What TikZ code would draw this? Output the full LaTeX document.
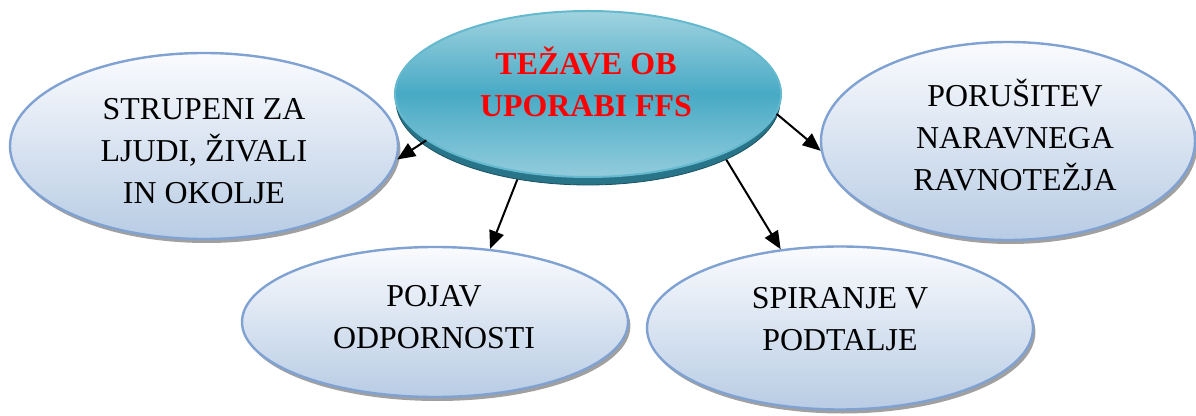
\documentclass[tikz,border=0pt]{standalone}
\usepackage{fontspec}
\setmainfont{Liberation Serif}
\usetikzlibrary{shapes.geometric,arrows.meta,shadows}
\definecolor{ellborder}{RGB}{128,162,210}
\definecolor{elltop}{RGB}{250,251,254}
\definecolor{ellbot}{RGB}{184,204,228}
\definecolor{hubtop}{RGB}{160,211,223}
\definecolor{hubmid}{RGB}{72,170,197}
\definecolor{hubbot}{RGB}{146,204,220}
\definecolor{hubline}{RGB}{100,185,207}
\definecolor{hubedge}{RGB}{40,116,137}
\definecolor{shadowgray}{RGB}{160,160,160}
\definecolor{titlered}{RGB}{255,0,0}
\begin{document}
\begin{tikzpicture}[x=0.5bp,y=-0.5bp,
  topic/.style={ellipse, draw=ellborder, line width=1.2bp,
    top color=elltop, bottom color=ellbot, inner sep=0pt,
    drop shadow={shadow xshift=1.2bp, shadow yshift=-2bp,
      fill=shadowgray, opacity=1}},
  hub/.style={ellipse, draw=hubline, line width=1bp,
    top color=hubtop, bottom color=hubbot, middle color=hubmid,
    inner sep=0pt, minimum width=193bp, minimum height=83bp},
  hubbase/.style={ellipse, fill=hubedge, draw=hubedge!70!black,
    line width=0.4bp, inner sep=0pt,
    minimum width=192bp, minimum height=84bp},
  lbl/.style={anchor=base, inner sep=0pt,
    font=\fontsize{16}{21}\selectfont},
  arr/.style={-{Triangle[length=9bp,width=7.5bp]}, line width=1bp}]
\useasboundingbox (0,0) rectangle (1196,416);

% outer topics
\node[topic, minimum width=194bp, minimum height=93bp] (L) at (204,146) {};
\node[topic, minimum width=193bp, minimum height=75bp] (BL) at (435,322) {};
\node[topic, minimum width=193bp, minimum height=81.5bp] (BR) at (840,328) {};
\node[topic, minimum width=187bp, minimum height=99bp] (R) at (1008,141) {};

% central topic with its darker rim
\node[hubbase] (Cb) at (588,101) {};
\node[hub] (C) at (588,94) {};

% labels
\node[lbl] (Lt) at (204,120) {\begin{tabular}[t]{@{}c@{}}STRUPENI ZA\\LJUDI, ŽIVALI\\IN OKOLJE\end{tabular}};
\node[lbl] (Rt) at (1015,107) {\begin{tabular}[t]{@{}c@{}}PORUŠITEV\\NARAVNEGA\\RAVNOTEŽJA\end{tabular}};
\node[lbl] (BLt) at (434,307) {\begin{tabular}[t]{@{}c@{}}POJAV\\ODPORNOSTI\end{tabular}};
\node[lbl] (BRt) at (840,309) {\begin{tabular}[t]{@{}c@{}}SPIRANJE V\\PODTALJE\end{tabular}};
\node[lbl, text=titlered, font=\fontsize{16}{21}\selectfont\bfseries] (Ct) at (586,75)
  {\begin{tabular}[t]{@{}c@{}}TEŽAVE OB\\UPORABI FFS\end{tabular}};

% connectors
\draw[arr] (C.196) -- (L.356);
\draw[arr] (Cb.228) -- (BL.53);
\draw[arr] (Cb.337) -- (BR.127);
\draw[arr] (C.354) -- (R.183);
\end{tikzpicture}
\end{document}
